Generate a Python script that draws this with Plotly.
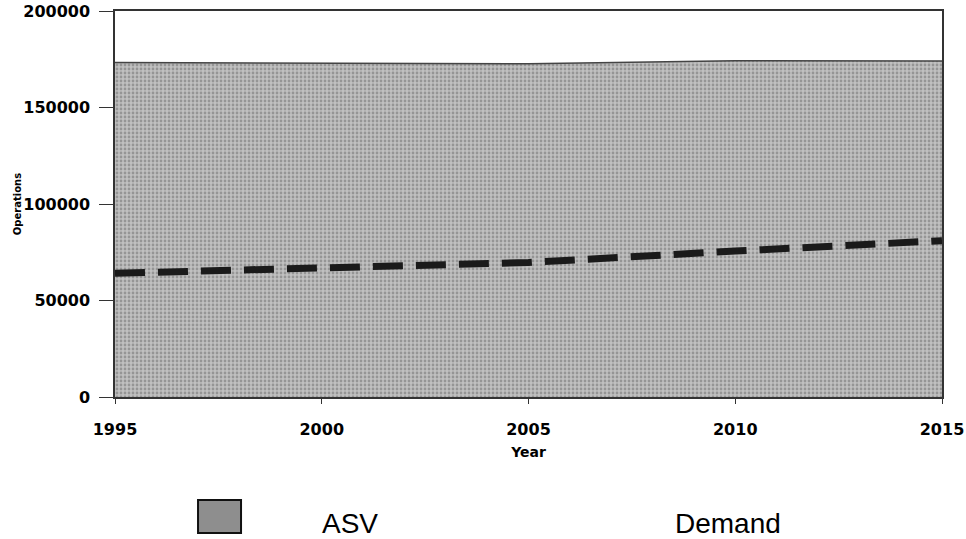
import plotly.graph_objects as go

years = [1995, 2000, 2005, 2010, 2015]
asv = [173300, 173000, 172700, 174200, 174100]
demand = [64100, 67100, 69700, 75600, 81000]

x_ticks = [1995, 2000, 2005, 2010, 2015]
y_ticks = [0, 50000, 100000, 150000, 200000]
legend_labels = ["ASV", "Demand"]

fig = go.Figure()
fig.add_trace(go.Scatter(
    x=years, y=asv, name=legend_labels[0], mode="lines",
    line=dict(color="#444444", width=1.5),
    fill="tozeroy", fillcolor="#b8b8b8",
    fillpattern=dict(shape=".", bgcolor="#c0c0c0", fgcolor="#6a6a6a", size=4, solidity=0.38),
    showlegend=False,
))
fig.add_trace(go.Scatter(
    x=years, y=demand, name=legend_labels[1], mode="lines",
    line=dict(color="#1a1a1a", width=7, dash="30px,13px"),
    showlegend=False,
))

# legend drawn as text annotations with a swatch
fig.add_shape(type="rect", xref="paper", yref="paper",
              x0=0.1004, x1=0.1524, y0=-0.3523, y1=-0.2668,
              fillcolor="#8e8e8e", line=dict(color="#111111", width=2))
fig.add_annotation(text=legend_labels[0], xref="paper", yref="paper", x=0.2842, y=-0.329,
                   xanchor="center", yanchor="middle",
                   showarrow=False, font=dict(size=28, family="Liberation Sans", color="black"))
fig.add_annotation(text=legend_labels[1], xref="paper", yref="paper", x=0.7412, y=-0.329,
                   xanchor="center", yanchor="middle",
                   showarrow=False, font=dict(size=28, family="Liberation Sans", color="black"))

fig.update_layout(
    width=966, height=539,
    margin=dict(l=115, r=24, t=11, b=142, autoexpand=False),
    paper_bgcolor="white", plot_bgcolor="white",
    font=dict(family="DejaVu Sans", color="black"),
    showlegend=False,
    xaxis=dict(range=[1995, 2015], tickvals=x_ticks, ticktext=[str(t) for t in x_ticks],
               showgrid=False, zeroline=False, showline=True, linecolor="#333", linewidth=1.5, mirror=True,
               ticks="outside", ticklen=5, tickcolor="#333", ticklabelstandoff=12,
               ticklabeloverflow="allow",
               tickfont=dict(size=16, family="DejaVu Sans", weight="bold"),
               title=dict(text="<b>Year</b>", font=dict(size=14, family="DejaVu Sans"), standoff=9)),
    yaxis=dict(range=[0, 200000], tickvals=y_ticks, ticktext=[str(t) for t in y_ticks],
               showgrid=False, zeroline=False, showline=True, linecolor="#333", linewidth=1.5, mirror=True,
               ticks="outside", ticklen=14, tickcolor="#333", ticklabelstandoff=6,
               ticklabeloverflow="allow",
               tickfont=dict(size=16, family="DejaVu Sans", weight="bold"),
               title=dict(text="<b>Operations</b>", font=dict(size=10, family="DejaVu Sans"), standoff=0)),
)

fig.write_html("out.html", config={"displayModeBar": False},
               post_script="document.body.style.margin='0';")
